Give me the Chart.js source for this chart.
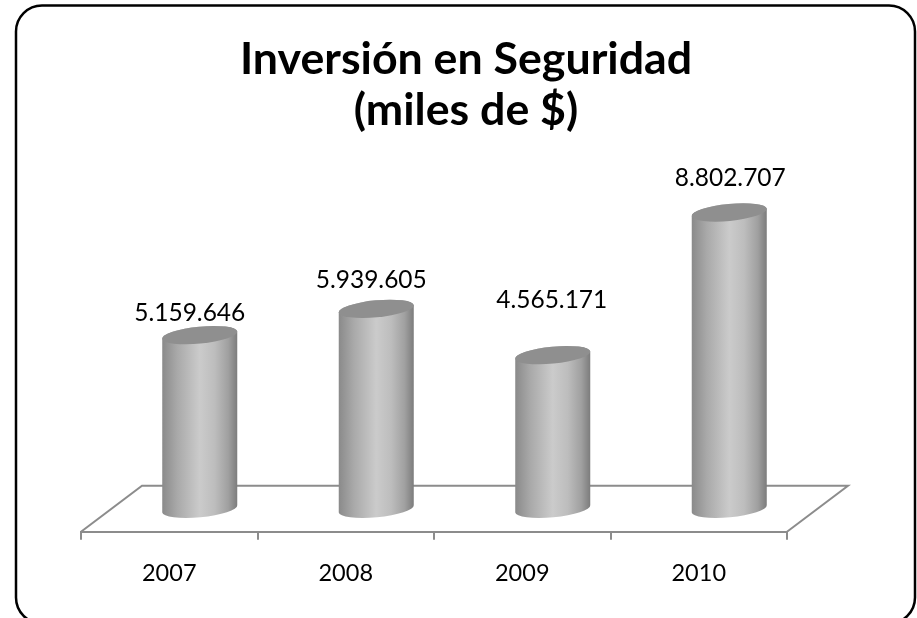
<!DOCTYPE html>
<html>
<head>
<meta charset="utf-8">
<style>html,body{margin:0;padding:0;background:#fff;overflow:hidden}canvas{display:block}</style>
<script src="https://cdn.jsdelivr.net/npm/chart.js@4"></script>
</head>
<body>
<canvas id="c" width="917" height="618"></canvas>
<script>
const years = ['2007', '2008', '2009', '2010'];
const investment = [5159646, 5939605, 4565171, 8802707];
const chartTitle = ['Inversión en Seguridad', '(miles de $)'];

const FONT = 'Lato, Carlito, Calibri, "Open Sans", sans-serif';
const fmt = v => String(v).replace(/\B(?=(\d{3})+$)/g, '.');

const cylinderPlugin = {
  id: 'cylinder3d',
  beforeDraw(chart) {
    const c = chart.ctx;
    c.save();
    c.fillStyle = '#fff';
    c.fillRect(0, 0, chart.width, chart.height);
    c.beginPath();
    c.roundRect(16, 5.5, 899, 618, 26);
    c.lineWidth = 2.5;
    c.strokeStyle = '#000';
    c.stroke();
    c.restore();
  },
  beforeDatasetDraw(chart, args, opts) {
    const c = chart.ctx, a = chart.chartArea;
    // Floor parallelogram
    c.save();
    c.strokeStyle = '#8c8c8c';
    c.lineWidth = 2;
    c.beginPath();
    c.moveTo(a.left, a.bottom);
    c.lineTo(a.left + opts.depthX, a.bottom - opts.depthY);
    c.lineTo(a.right + opts.depthX, a.bottom - opts.depthY);
    c.lineTo(a.right, a.bottom);
    c.stroke();

    // Cylinders placed halfway through the floor depth
    const tilt = -5.5 * Math.PI / 180;
    const ry = 8.5;
    chart.getDatasetMeta(args.index).data.forEach(bar => {
      const cx = bar.x + opts.depthX / 2;
      const top = bar.y - opts.depthY / 2;
      const bot = bar.base - opts.depthY / 2;
      const hw = bar.width / 2;
      const rx = hw / Math.cos(tilt);
      const dy = hw * Math.tan(tilt);
      const g = c.createLinearGradient(cx - hw, 0, cx + hw, 0);
      g.addColorStop(0, '#8a8a8a');
      g.addColorStop(0.2, '#a9a9a9');
      g.addColorStop(0.5, '#cbcbcb');
      g.addColorStop(0.7, '#bdbdbd');
      g.addColorStop(0.88, '#a0a0a0');
      g.addColorStop(1, '#7c7c7c');
      c.beginPath();
      c.moveTo(cx + hw, top + dy);
      c.lineTo(cx + hw, bot + dy);
      c.ellipse(cx, bot, rx, ry, tilt, 0, Math.PI, false);
      c.lineTo(cx - hw, top - dy);
      c.ellipse(cx, top, rx, ry, tilt, Math.PI, 0, false);
      c.closePath();
      c.fillStyle = g;
      c.fill();
      c.beginPath();
      c.ellipse(cx, top, rx, ry, tilt, 0, Math.PI * 2);
      c.fillStyle = '#8f8f8f';
      c.fill();
    });
    c.restore();
    return false;
  },
  afterDatasetsDraw(chart, args, opts) {
    const c = chart.ctx;
    c.save();
    c.fillStyle = '#000';
    c.font = '24.5px ' + FONT;
    c.textAlign = 'center';
    c.textBaseline = 'middle';
    chart.getDatasetMeta(0).data.forEach((bar, i) => {
      const x = bar.x + opts.depthX / 2 + opts.labelDx[i];
      const y = bar.y - opts.depthY / 2 - opts.labelLift[i];
      c.fillText(fmt(investment[i]), x, y);
    });
    c.restore();
  }
};

const hiddenAxis = (position, width) => ({
  position,
  min: 0,
  max: 10000000,
  grid: { display: false },
  border: { display: false },
  ticks: { display: false },
  afterFit(scale) { scale.width = width; }
});

new Chart(document.getElementById('c'), {
  type: 'bar',
  data: {
    labels: years,
    datasets: [{
      label: 'Inversión en Seguridad',
      data: investment,
      backgroundColor: '#a9a9a9',
      barPercentage: 0.425,
      categoryPercentage: 1,
      yAxisID: 'y'
    }]
  },
  plugins: [cylinderPlugin],
  options: {
    responsive: false,
    animation: false,
    layout: { padding: { left: 15, right: 0, top: 0, bottom: 10 } },
    plugins: {
      legend: { display: false },
      tooltip: { enabled: false },
      title: {
        display: true,
        text: chartTitle,
        color: '#000',
        font: { family: FONT, size: 44.7, weight: 'bold', lineHeight: 1.12 },
        padding: { top: 35, bottom: 60 }
      },
      cylinder3d: {
        depthX: 61,
        depthY: 46,
        labelDx: [-10, -5, -1, 1],
        labelLift: [22, 29, 55, 34]
      }
    },
    scales: {
      x: {
        grid: { drawOnChartArea: false, drawTicks: true, tickLength: 8, color: '#8c8c8c', lineWidth: 2 },
        border: { display: true, color: '#8c8c8c', width: 2 },
        ticks: { color: '#000', font: { family: FONT, size: 23.5 }, padding: 20, maxRotation: 0 }
      },
      y: hiddenAxis('left', 66),
      y1: hiddenAxis('right', 130)
    }
  }
});
</script>
</body>
</html>
